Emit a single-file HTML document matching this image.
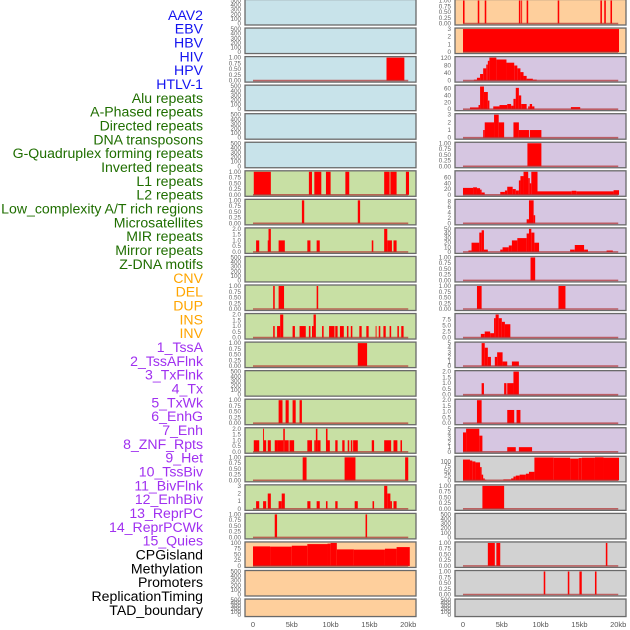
<!DOCTYPE html>
<html><head><meta charset="utf-8"><style>
html,body{margin:0;padding:0;background:#fff;}
svg{display:block;font-family:"Liberation Sans",sans-serif;}
</style></head><body>
<svg id="chart" width="630" height="630" viewBox="0 0 630 630" xmlns="http://www.w3.org/2000/svg"></svg>
<script>
const labels=["AAV2","EBV","HBV","HIV","HPV","HTLV-1","Alu repeats","A-Phased repeats","Directed repeats","DNA transposons","G-Quadruplex forming repeats","Inverted repeats","L1 repeats","L2 repeats","Low_complexity A/T rich regions","Microsatellites","MIR repeats","Mirror repeats","Z-DNA motifs","CNV","DEL","DUP","INS","INV","1_TssA","2_TssAFlnk","3_TxFlnk","4_Tx","5_TxWk","6_EnhG","7_Enh","8_ZNF_Rpts","9_Het","10_TssBiv","11_BivFlnk","12_EnhBiv","13_ReprPC","14_ReprPCWk","15_Quies","CPGisland","Methylation","Promoters","ReplicationTiming","TAD_boundary"];
const labelColors=Array(6).fill("#1414f0").concat(Array(13).fill("#1f6e00"),Array(5).fill("#ffa500"),Array(15).fill("#a030f0"),Array(5).fill("#000"));
const xTicks=[0,5,10,15,20];
const xTickLabels=["0","5kb","10kb","15kb","20kb"];
const T_EMPTY=["0","100","200","300","400","500"], V_EMPTY=[0,100,200,300,400,500];
const T_BIN=["0.00","0.25","0.50","0.75","1.00"], V_BIN=[0,.25,.5,.75,1];
const T_2=["0.0","0.5","1.0","1.5","2.0"], V_2=[0,.5,1,1.5,2];
const leftBg=Array(6).fill("#c8e3ea").concat(Array(13).fill("#c8e0a4"),Array(3).fill("#fecf9c"));
const rightBg=Array(2).fill("#fecf9c").concat(Array(14).fill("#d6c6e1"),Array(6).fill("#d2d2d2"));
const leftMax=[500,500,1,500,500,500,1,1,2,500,1,2,1,500,1,2,1,3,1,100,500,500];
const leftTickVals=[V_EMPTY,V_EMPTY,V_BIN,V_EMPTY,V_EMPTY,V_EMPTY,V_BIN,V_BIN,V_2,V_EMPTY,V_BIN,V_2,V_BIN,V_EMPTY,V_BIN,V_2,V_BIN,[0,1,2,3],V_BIN,[0,25,50,75,100],V_EMPTY,V_EMPTY];
const leftTickLabels=[T_EMPTY,T_EMPTY,T_BIN,T_EMPTY,T_EMPTY,T_EMPTY,T_BIN,T_BIN,T_2,T_EMPTY,T_BIN,T_2,T_BIN,T_EMPTY,T_BIN,T_2,T_BIN,["0","1","2","3"],T_BIN,["0","25","50","75","100"],T_EMPTY,T_EMPTY];
const leftSegs=[
[],[],[[17.2,19.5,1]],[],[],[],
[[0.1,2.3,1],[7.2,7.6,1],[7.9,8.8,1],[9.4,10.0,1],[11.9,12.4,1],[16.9,17.6,1],[17.7,18.5,1],[19.7,20.1,1]],
[[6.3,6.6,1],[13.5,13.8,1]],
[[0.4,0.8,1],[1.9,2.0,1],[2.0,2.3,2],[3.3,4.1,1],[7.0,7.4,1],[8.2,8.6,1],[15.3,15.5,1],[16.9,17.3,2],[17.3,17.9,1],[18.1,18.5,1]],
[],
[[2.6,2.8,1],[3.3,4.0,1],[8.2,8.4,1]],
[[2.6,2.8,1],[3.1,3.5,1],[3.5,3.9,2],[5.1,5.4,1],[6.0,6.8,1],[7.2,7.4,1],[7.6,7.8,1],[7.8,8.1,2],[8.9,9.1,1],[9.8,10.5,1],[10.6,10.9,1],[11.2,11.7,1],[12.1,12.3,1],[12.6,12.8,1],[13.7,14.0,1],[14.6,14.9,1],[15.8,15.9,1],[16.2,16.4,1],[16.8,17.1,1],[17.6,17.8,1],[18.6,18.8,1],[19.1,19.4,1]],
[[13.5,14.7,1]],
[],
[[3.3,3.8,1],[4.2,4.6,1],[5.1,5.5,1],[6.0,6.3,1]],
[[0.1,0.8,1],[1.3,1.4,2],[1.4,1.7,1],[1.9,2.3,1],[2.8,3.1,1],[3.1,3.9,1],[3.9,4.1,2],[4.1,4.6,1],[4.7,5.3,1],[7.0,7.6,1],[7.9,8.1,1],[8.1,8.3,2],[8.3,8.7,1],[9.4,9.6,2],[9.6,9.9,1],[10.6,10.9,1],[11.5,11.8,1],[12.2,12.4,1],[12.6,12.8,1],[12.9,13.5,1],[15.3,15.6,1],[16.9,17.8,1],[18.1,18.6,1],[19.0,19.2,1]],
[[6.4,6.9,1],[11.8,13.2,1],[19.6,20.0,1]],
[[0.4,0.8,1],[1.3,1.7,1],[1.9,2.3,2],[3.3,3.7,1],[3.7,4.1,2],[7.0,7.4,1],[8.2,8.6,1],[9.4,9.6,1],[10.6,10.9,1],[13.1,13.5,1],[15.4,15.6,1],[16.9,17.3,3],[17.3,17.7,2],[17.7,17.9,1],[18.1,18.5,1]],
[[2.8,3.1,1],[14.5,14.7,1]],
[[0,2.2,85],[2.2,5,84],[5,7,88],[7,9.6,95],[9.6,10,97],[10,10.8,100],[10.8,13,72],[13,17,71],[17,18.5,75],[18.5,20.2,82]],
[],[]];
const rightMax=[1,3,122,67,3,1,80,8.5,50,1,1,9.5,5,2,2,5,122,1,500,1,1,500];
const rightTickVals=[V_BIN,[0,1,2,3],[0,40,80,120],[0,20,40,60],[0,1,2,3],V_BIN,[0,20,40,60],[0,2,4,6,8],[0,10,20,30,40,50],V_BIN,V_BIN,[0,2.5,5,7.5],[0,1,2,3,4,5],V_2,V_2,[0,1,2,3,4,5],[0,25,50,75,100],V_BIN,V_EMPTY,V_BIN,V_BIN,V_EMPTY];
const rightTickLabels=[T_BIN,["0","1","2","3"],["0","40","80","120"],["0","20","40","60"],["0","1","2","3"],T_BIN,["0","20","40","60"],["0","2","4","6","8"],["0","10","20","30","40","50"],T_BIN,T_BIN,["0.0","2.5","5.0","7.5"],["0","1","2","3","4","5"],T_2,T_2,["0","1","2","3","4","5"],["0","25","50","75","100"],T_BIN,T_EMPTY,T_BIN,T_BIN,T_EMPTY];
const rightSegs=[
[[0.0,0.2,1],[1.9,2.1,1],[2.8,3.0,1],[7.2,7.4,1],[7.5,7.6,1],[8.2,8.4,1],[12.2,12.4,1],[17.7,17.9,1],[18.2,18.4,1],[19.0,19.2,1]],
[[0,20.1,3]],
[[1.4,1.8,5],[1.8,2.2,15],[2.2,2.6,35],[2.6,3.0,65],[3.0,3.2,85],[3.2,3.4,105],[3.4,4.3,122],[4.3,5.6,112],[5.6,6.6,95],[6.6,7.0,80],[7.0,7.4,65],[7.4,7.8,45],[7.8,8.2,25],[8.2,9.0,10],[9.0,9.5,5]],
[[0.9,2.0,5],[2.0,2.2,12],[2.2,2.7,66],[2.7,3.2,50],[3.2,3.4,25],[3.9,4.7,8],[4.7,5.7,12],[5.7,6.2,15],[6.2,6.5,10],[6.5,6.8,30],[6.8,7.2,62],[7.2,7.5,40],[7.5,8.2,15],[8.4,8.6,8],[8.6,8.9,15],[8.9,9.2,8],[13.9,15.1,6]],
[[2.6,2.8,1],[2.8,4.0,2],[4.0,4.6,3],[4.6,5.3,2],[6.5,7.2,2],[7.2,8.5,1],[8.6,10.1,1]],
[[8.3,10.1,1]],
[[0,1.3,24],[1.3,1.8,26],[1.8,2.2,23],[2.2,2.4,18],[2.4,2.8,8],[4.8,5.4,10],[5.4,5.7,15],[5.7,6.4,28],[6.4,6.8,20],[6.8,7.2,15],[7.2,7.4,50],[7.4,7.8,65],[7.8,8.4,80],[8.4,8.6,58],[8.6,8.8,40],[8.8,9.6,80],[9.6,14.0,12],[14.0,14.6,14],[14.6,19.4,12],[19.4,20.1,16]],
[[8.2,8.5,1.5],[8.5,9.1,8.5],[9.1,9.3,3]],
[[0.7,1.1,3],[1.1,2.1,20],[2.1,2.4,42],[2.4,2.7,47],[2.7,3.2,5],[4.8,5.1,5],[5.1,5.9,10],[5.9,6.3,14],[6.3,7.0,25],[7.0,8.2,30],[8.2,8.5,40],[8.5,8.8,50],[8.8,9.2,42],[9.2,9.8,20],[13.8,14.4,5],[14.4,15.6,15],[15.6,16.1,5],[18.5,19.3,3]],
[[8.7,9.3,1]],
[[1.8,2.4,1],[12.3,13.2,1]],
[[2.3,2.8,1.5],[2.8,3.5,2.5],[3.5,4.0,1.8],[4.0,4.2,8],[4.2,4.6,9.5],[4.6,5.0,8],[5.0,5.4,6.5],[5.4,6.1,5.5]],
[[2.4,2.8,5],[2.8,3.2,4],[3.2,3.6,2],[4.1,4.4,2],[4.4,5.1,3],[5.1,5.7,1],[6.3,7.2,1]],
[[2.4,2.7,1],[5.3,5.6,1],[5.7,6.5,1],[6.5,7.2,2]],
[[1.8,2.4,2],[5.7,6.6,1.15],[6.9,7.4,1.15]],
[[0,0.4,4.2],[0.4,2.1,5],[2.1,2.5,3.5],[5.7,6.8,1],[7.2,8.9,1]],
[[0,0.9,110],[0.9,1.2,105],[1.2,1.6,100],[1.6,2.2,95],[2.2,2.4,70],[2.4,2.6,30],[2.6,2.8,10],[2.8,3.0,3],[5.2,6.2,5],[6.2,6.5,10],[6.5,6.8,20],[6.8,7.3,25],[7.3,8.1,30],[8.1,8.5,35],[8.5,9.2,45],[9.2,11.7,121],[11.7,13.8,120],[13.8,14.9,115],[14.9,15.3,118],[15.3,17.0,120],[17.0,18.1,122],[18.1,20.1,120]],
[[2.5,5.3,1]],
[],
[[3.2,4.1,1],[4.3,4.8,1],[18.4,18.6,1]],
[[10.4,10.6,1],[13.5,13.7,1],[15.0,15.3,1],[17.0,17.2,1]],
[]];

const NS="http://www.w3.org/2000/svg";
const svg=document.getElementById("chart");
function mk(tag,attrs,parent){const e=document.createElementNS(NS,tag);for(const k in attrs)e.setAttribute(k,attrs[k]);(parent||svg).appendChild(e);return e;}

labels.forEach((t,i)=>{
  const e=mk("text",{x:203,y:15+13.84*i+4.8,"text-anchor":"end","font-size":"14.1",fill:labelColors[i]});
  
  
  e.textContent=t;
});

function drawColumn(x0,x1,bgs,segs,maxes,tvals,tlabs,colName){
  const kb0=-1.03,kb1=21.0;
  const xs=kb=>x0+(kb-kb0)/(kb1-kb0)*(x1-x0);
  for(let i=0;i<22;i++){
    const top=i*28.55-0.5, h=(i==21)?17.5:25.5, bot=top+h;
    const g=mk("g",{});
    
    
    const r=mk("rect",{x:x0,y:top,width:x1-x0,height:h,fill:bgs[i]},g);
    
    
    const ys=v=>bot-1.5-v/maxes[i]*(h-2.5);
    segs[i].forEach(s=>{
      const b=mk("rect",{x:xs(s[0]),y:ys(s[2]),width:Math.max(0.9,xs(s[1])-xs(s[0])),height:ys(0)-ys(s[2]),fill:"#ff0000"},g);
      
      
    });
    if(segs[i].length){
      const bl=mk("line",{x1:xs(0),x2:xs(20),y1:ys(0),y2:ys(0),stroke:"#b03030","stroke-opacity":"0.7","stroke-width":"1.6"},g);
      
      
    }
    const bd=mk("rect",{x:x0,y:top,width:x1-x0,height:h,fill:"none",stroke:"#6a6a6a","stroke-width":"1.3"},g);
    
    
    tvals[i].forEach((v,k)=>{
      const t=mk("text",{x:x0-4,y:ys(v)+2,"text-anchor":"end","font-size":"6.3",fill:"#666"},g);
      
      
      t.textContent=tlabs[i][k];
    });
  }
  xTicks.forEach((v,k)=>{
    const t=mk("text",{x:xs(v),y:627,"text-anchor":"middle","font-size":"7.5",fill:"#555"});
    
    
    t.textContent=xTickLabels[k];
  });
}
drawColumn(245,416,leftBg,leftSegs,leftMax,leftTickVals,leftTickLabels,'left');
drawColumn(455,626,rightBg,rightSegs,rightMax,rightTickVals,rightTickLabels,'right');
</script>
</body></html>
